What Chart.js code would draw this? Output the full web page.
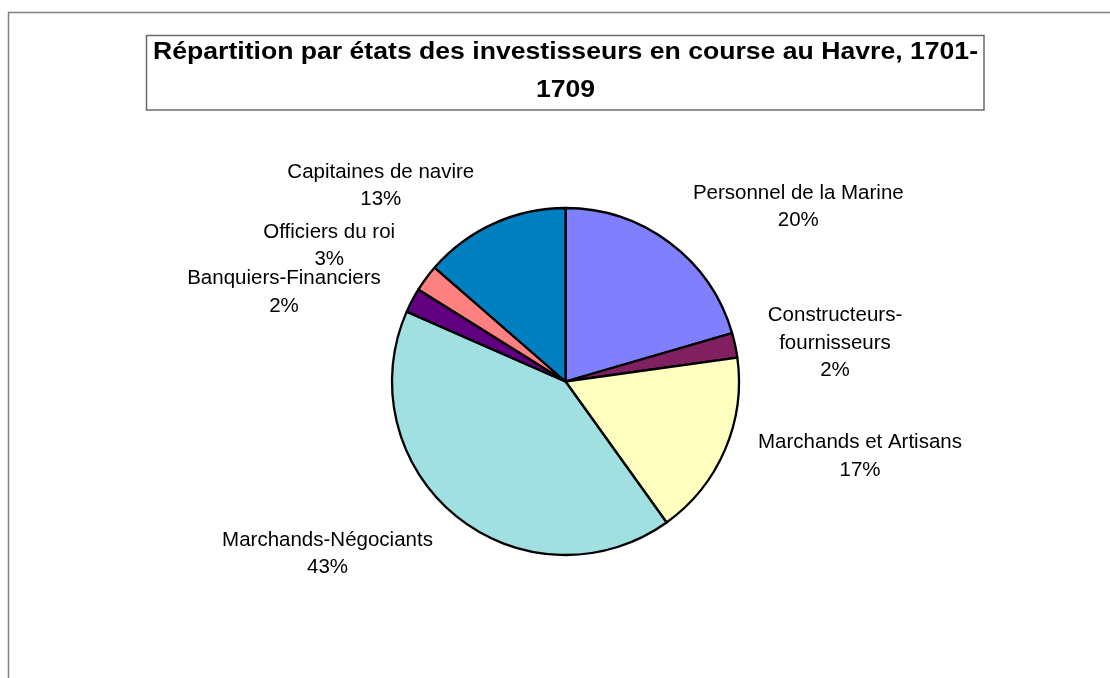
<!DOCTYPE html>
<html><head><meta charset="utf-8">
<script src="https://cdn.jsdelivr.net/npm/chart.js@4.4.1/dist/chart.umd.min.js"></script>
<style>html,body{margin:0;padding:0;background:#fff;}#wrap{position:relative;width:1110px;height:678px;}canvas{display:block;}</style>
</head><body><div id="wrap"><canvas id="c" width="1110" height="678"></canvas></div>
<script>
// ---- data ----
const categories = ["Personnel de la Marine", "Constructeurs-fournisseurs", "Marchands et Artisans", "Marchands-Négociants", "Banquiers-Financiers", "Officiers du roi", "Capitaines de navire"];
const labelLines = [["Personnel de la Marine"], ["Constructeurs-", "fournisseurs"], ["Marchands et Artisans"], ["Marchands-Négociants"], ["Banquiers-Financiers"], ["Officiers du roi"], ["Capitaines de navire"]];
const shares = [20.5, 2.3, 17.3, 41.5, 2.3, 2.5, 13.6];
const percentLabels = ["20%", "2%", "17%", "43%", "2%", "3%", "13%"];
const sliceColors = ["#8080FF", "#802060", "#FFFFC0", "#A0E0E0", "#600080", "#FF8080", "#0080C0"];
const titleLines = ["Répartition par états des investisseurs en course au Havre, 1701-", "1709"];

// label block centres relative to pie centre (layout only)
const labelOffsets = [[232.8, -174.9], [269.5, -38.4], [294.5, 74.7], [-238, 172.3], [-281.5, -89.2], [-236.3, -135.9], [-184.7, -195.9]];

const decor = {
  id: 'decor',
  afterDraw(chart) {
    const ctx = chart.ctx;
    ctx.save();
    // outer frame (left & top visible)
    ctx.strokeStyle = '#808080';
    ctx.lineWidth = 1.5;
    ctx.beginPath();
    ctx.moveTo(8.5, 678); ctx.lineTo(8.5, 12.5); ctx.lineTo(1110, 12.5);
    ctx.stroke();
    // title box
    ctx.strokeStyle = '#6a6a6a';
    ctx.lineWidth = 1.5;
    ctx.strokeRect(146.5, 35.5, 837.5, 74.5);
    // title text
    ctx.fillStyle = '#000';
    ctx.font = 'bold 23px "Liberation Sans", Arial, sans-serif';
    ctx.textAlign = 'center';
    ctx.textBaseline = 'alphabetic';
    const w = ctx.measureText(titleLines[0]).width;
    const sx = 825 / w;
    const baselines = [58.5, 96.5];
    titleLines.forEach((t, i) => {
      ctx.save();
      ctx.translate(565.5, baselines[i]);
      ctx.scale(sx, 1);
      ctx.fillText(t, 0, 0);
      ctx.restore();
    });
    // slice labels
    const meta = chart.getDatasetMeta(0);
    ctx.font = '20.5px "Liberation Sans", Arial, sans-serif';
    ctx.textBaseline = 'middle';
    ctx.fillStyle = '#000';
    meta.data.forEach((arc, i) => {
      const lines = labelLines[i].concat([percentLabels[i]]);
      const cx = arc.x + labelOffsets[i][0];
      const cy = arc.y + labelOffsets[i][1];
      const lh = 27.5;
      lines.forEach((l, k) => {
        ctx.fillText(l, cx, cy + (k - (lines.length - 1) / 2) * lh);
      });
    });
    ctx.restore();
  }
};

new Chart(document.getElementById('c'), {
  type: 'pie',
  data: {
    labels: categories,
    datasets: [{
      data: shares,
      backgroundColor: sliceColors,
      borderColor: '#000',
      borderWidth: 2.3,
      borderJoinStyle: 'round'
    }]
  },
  options: {
    responsive: false,
    animation: false,
    devicePixelRatio: 1,
    radius: 173.5,
    layout: { padding: { left: 121, right: 100, top: 135, bottom: 50 } },
    plugins: { legend: { display: false }, title: { display: false }, tooltip: { enabled: false } }
  },
  plugins: [decor]
});
</script>
</body></html>
